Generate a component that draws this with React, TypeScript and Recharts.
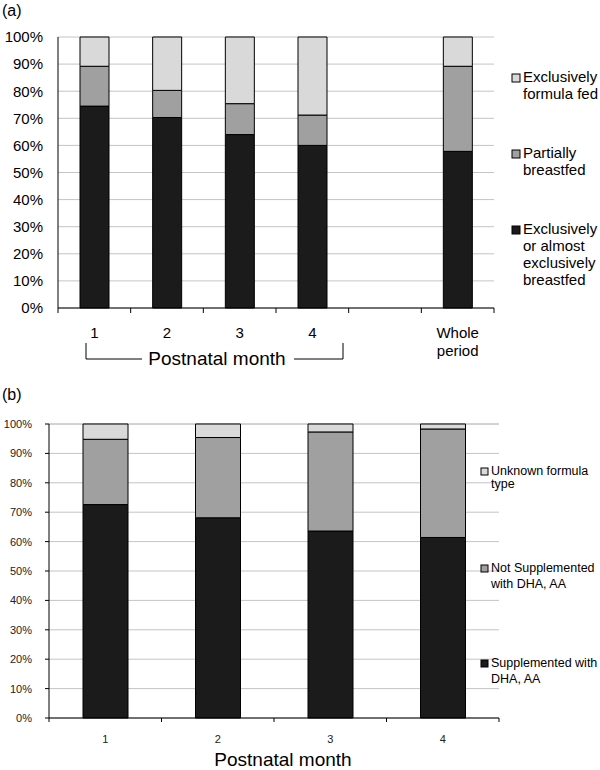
import { BarChart, Bar, XAxis, YAxis, CartesianGrid } from "recharts";

// panel (a): feeding type per postnatal month
const monthsA = ["1", "2", "3", "4", "", "Whole period"];
const exclusiveBreastfed = [74.5, 70.3, 64, 60, null, 57.8];
const partiallyBreastfed = [14.7, 10, 11.4, 11.2, null, 31.4];
const formulaFed = [10.8, 19.7, 24.6, 28.8, null, 10.8];

// panel (b): formula type per postnatal month
const monthsB = ["1", "2", "3", "4"];
const supplemented = [72.6, 68.1, 63.6, 61.4];
const notSupplemented = [22.2, 27.3, 33.7, 36.9];
const unknownType = [5.2, 4.6, 2.7, 1.7];

const yTicks = [0, 10, 20, 30, 40, 50, 60, 70, 80, 90, 100];

const dataA = monthsA.map((m, i) => ({
  month: m,
  exclusive: exclusiveBreastfed[i],
  partial: partiallyBreastfed[i],
  formula: formulaFed[i],
}));

const dataB = monthsB.map((m, i) => ({
  month: m,
  supp: supplemented[i],
  notSupp: notSupplemented[i],
  unknown: unknownType[i],
}));

const FONT = "Arial, 'Liberation Sans', sans-serif";
const BLACK = "#1b1b1b";
const GREY = "#a0a0a0";
const LIGHT = "#d9d9d9";

// plot widths (used to put the x ticks on the category borders)
const PLOT_W_A = 494 - 58;
const PLOT_W_B = 499 - 49;

function TickA(props: any) {
  const { x, y, payload, index } = props;
  const half = PLOT_W_A / monthsA.length / 2;
  const lines = String(payload.value).split(" ");
  return (
    <g>
      <line x1={x - half} x2={x - half} y1={y} y2={y + 5} stroke="#000" />
      {index === monthsA.length - 1 && (
        <line x1={x + half} x2={x + half} y1={y} y2={y + 5} stroke="#000" />
      )}
      <text x={x} y={y + 30} textAnchor="middle" fontSize={15} fontFamily={FONT} fill="#000">
        {lines.map((l, i) => (
          <tspan key={i} x={x} dy={i === 0 ? 0 : 18}>
            {l}
          </tspan>
        ))}
      </text>
    </g>
  );
}

function TickB(props: any) {
  const { x, y, payload, index } = props;
  const half = PLOT_W_B / monthsB.length / 2;
  return (
    <g>
      <line x1={x - half} x2={x - half} y1={y} y2={y + 4} stroke="#000" />
      {index === monthsB.length - 1 && (
        <line x1={x + half} x2={x + half} y1={y} y2={y + 4} stroke="#000" />
      )}
      <text x={x} y={y + 25} textAnchor="middle" fontSize={11} fontFamily={FONT} fill="#222">
        {payload.value}
      </text>
    </g>
  );
}

function LegendItem({ x, y, color, lines, size, lh, box }: any) {
  return (
    <g>
      <rect x={x} y={y - box} width={box} height={box} fill={color} stroke="#000" strokeWidth={1} />
      <text x={x + box + 3} y={y} fontSize={size} fontFamily={FONT} fill="#000">
        {lines.map((l: string, i: number) => (
          <tspan key={i} x={x + box + 3} dy={i === 0 ? 0 : lh}>
            {l}
          </tspan>
        ))}
      </text>
    </g>
  );
}

export default function App() {
  return (
    <div style={{ position: "absolute", left: 0, top: 0, width: 600, height: 770, background: "#fff" }}>
      <div style={{ position: "absolute", left: 0, top: 0 }}>
        <BarChart
          width={600}
          height={380}
          data={dataA}
          margin={{ top: 37, right: 106, bottom: 22, left: 8 }}
          barSize={29}
        >
          <CartesianGrid vertical={false} stroke="#c4c4c4" />
          <XAxis
            dataKey="month"
            height={50}
            interval={0}
            tickSize={0}
            tickMargin={0}
            tickLine={false}
            axisLine={{ stroke: "#000" }}
            tick={<TickA />}
          />
          <YAxis
            width={50}
            domain={[0, 100]}
            ticks={yTicks}
            tickFormatter={(v) => `${v}%`}
            tickLine={false}
            tickSize={0}
            tickMargin={15}
            axisLine={{ stroke: "#000" }}
            tick={{ fontSize: 15, fill: "#000", fontFamily: FONT }}
          />
          <Bar dataKey="exclusive" stackId="a" fill={BLACK} stroke="#000" isAnimationActive={false} />
          <Bar dataKey="partial" stackId="a" fill={GREY} stroke="#000" isAnimationActive={false} />
          <Bar dataKey="formula" stackId="a" fill={LIGHT} stroke="#000" isAnimationActive={false} />
        </BarChart>
      </div>

      <div style={{ position: "absolute", left: 0, top: 380 }}>
        <BarChart
          width={600}
          height={390}
          data={dataB}
          margin={{ top: 44, right: 101, bottom: 22, left: 4 }}
          barSize={45}
        >
          <CartesianGrid vertical={false} stroke="#c4c4c4" />
          <XAxis
            dataKey="month"
            height={30}
            interval={0}
            tickSize={0}
            tickMargin={0}
            tickLine={false}
            axisLine={{ stroke: "#000" }}
            tick={<TickB />}
          />
          <YAxis
            width={45}
            domain={[0, 100]}
            ticks={yTicks}
            tickFormatter={(v) => `${v}%`}
            tickLine={{ stroke: "#000" }}
            tickSize={4}
            tickMargin={13}
            axisLine={{ stroke: "#000" }}
            tick={{ fontSize: 11, fill: "#222", fontFamily: FONT }}
          />
          <Bar dataKey="supp" stackId="b" fill={BLACK} stroke="#000" isAnimationActive={false} />
          <Bar dataKey="notSupp" stackId="b" fill={GREY} stroke="#000" isAnimationActive={false} />
          <Bar dataKey="unknown" stackId="b" fill={LIGHT} stroke="#000" isAnimationActive={false} />
        </BarChart>
      </div>

      <svg
        width={600}
        height={770}
        style={{ position: "absolute", left: 0, top: 0, pointerEvents: "none" }}
      >
        <text x={2} y={16} fontSize={16} fontFamily={FONT}>(a)</text>
        <text x={2} y={400} fontSize={16} fontFamily={FONT}>(b)</text>

        {/* bracket under months 1-4 */}
        <polyline points="86,343 86,359 142,359" fill="none" stroke="#000" />
        <polyline points="294,359 343,359 343,343" fill="none" stroke="#000" />
        <text x={217} y={365} textAnchor="middle" fontSize={19} fontFamily={FONT}>
          Postnatal month
        </text>

        <text x={283} y={766} textAnchor="middle" fontSize={19} fontFamily={FONT}>
          Postnatal month
        </text>

        <LegendItem x={512} y={82} color={LIGHT} lines={["Exclusively", "formula fed"]} size={15} lh={17} box={8} />
        <LegendItem x={512} y={158} color={GREY} lines={["Partially", "breastfed"]} size={15} lh={17} box={8} />
        <LegendItem
          x={512}
          y={234}
          color={BLACK}
          lines={["Exclusively", "or almost", "exclusively", "breastfed"]}
          size={15}
          lh={17}
          box={8}
        />

        <LegendItem x={481} y={475} color={LIGHT} lines={["Unknown formula", "type"]} size={12.5} lh={13} box={7} />
        <LegendItem x={481} y={572} color={GREY} lines={["Not Supplemented", "with DHA, AA"]} size={12.5} lh={16} box={7} />
        <LegendItem x={481} y={667} color={BLACK} lines={["Supplemented with", "DHA, AA"]} size={12.5} lh={16} box={7} />
      </svg>
    </div>
  );
}
